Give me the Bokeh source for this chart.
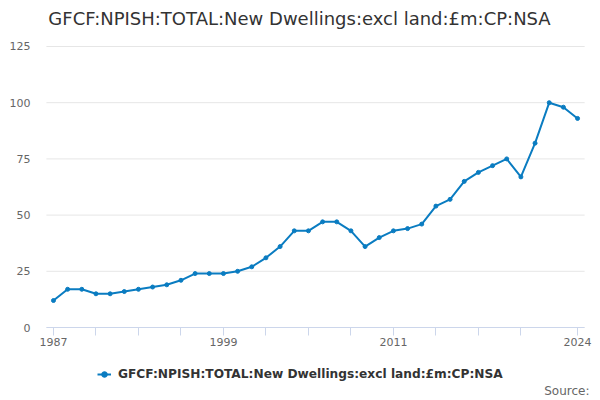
from bokeh.plotting import figure
from bokeh.models import (ColumnDataSource, FixedTicker, Legend, LegendItem, Label)
from bokeh.embed import file_html
from bokeh.resources import INLINE

title_text = "GFCF:NPISH:TOTAL:New Dwellings:excl land:£m:CP:NSA"
series_name = "GFCF:NPISH:TOTAL:New Dwellings:excl land:£m:CP:NSA"
source_text = "Source:"

years = list(range(1987, 2025))
values = [12, 17, 17, 15, 15, 16, 17, 18, 19, 21,
          24, 24, 24, 25, 27, 31, 36, 43, 43, 47,
          47, 43, 36, 40, 43, 44, 46, 54, 57, 65,
          69, 72, 75, 67, 82, 100, 98, 93]

x_label_ticks = [1987, 1999, 2011, 2024]
x_minor_ticks = [1990, 1993, 1996, 2002, 2005, 2008, 2014, 2017, 2020]
y_ticks = [0, 25, 50, 75, 100, 125]

FONT = "DejaVu Sans"
LINE_COLOR = "#0a7cc1"
GRID_COLOR = "#e6e6e6"
AXIS_COLOR = "#ccd6eb"

src = ColumnDataSource(data=dict(year=years, value=values))

# category-like plot band: half a year either side of the data
x_lo = years[0] - 0.5
x_hi = years[-1] + 0.5

# The frame fills the whole canvas; axes are pinned with fixed_location so all
# texts (title, axis labels, legend, source) sit inside the frame, unclipped.
p = figure(width=600, height=400, output_backend="svg", toolbar_location=None,
           title=None,
           x_range=(1983.26, 2025.62), y_range=(-32.47, 145.46),
           min_border_left=0, min_border_right=0, min_border_top=0,
           min_border_bottom=0)
p.outline_line_color = None
p.background_fill_color = "white"
p.border_fill_color = "white"

# horizontal grid lines limited to the plot band
grid_src = ColumnDataSource(data=dict(y=y_ticks, x0=[x_lo] * len(y_ticks),
                                      x1=[x_hi] * len(y_ticks)))
p.segment(x0="x0", y0="y", x1="x1", y1="y", source=grid_src,
          line_color=GRID_COLOR, line_width=1)

line = p.line("year", "value", source=src, line_color=LINE_COLOR, line_width=2)
pts = p.scatter("year", "value", source=src, size=4, fill_color=LINE_COLOR,
                line_color=LINE_COLOR)

p.xgrid.visible = False
p.ygrid.visible = False

# x axis pinned at y = 0
xa = p.xaxis[0]
xa.fixed_location = 0
xa.bounds = (x_lo, x_hi)
xa.ticker = FixedTicker(ticks=x_label_ticks, minor_ticks=x_minor_ticks)
xa.axis_line_color = AXIS_COLOR
xa.major_tick_line_color = AXIS_COLOR
xa.minor_tick_line_color = AXIS_COLOR
xa.major_tick_in = 0
xa.major_tick_out = 8
xa.minor_tick_in = 0
xa.minor_tick_out = 8
xa.major_label_text_font = FONT
xa.major_label_text_font_size = "11px"
xa.major_label_text_color = "#666666"
xa.major_label_standoff = 2

# y axis pinned at the left edge of the plot band
ya = p.yaxis[0]
ya.fixed_location = x_lo
ya.bounds = (0, 125)
ya.ticker = FixedTicker(ticks=y_ticks, minor_ticks=[])
ya.axis_line_color = None
ya.major_tick_line_color = None
ya.minor_tick_line_color = None
ya.major_tick_out = 0
ya.major_tick_in = 0
ya.major_label_text_font = FONT
ya.major_label_text_font_size = "11px"
ya.major_label_text_color = "#666666"
ya.major_label_standoff = 16

# title (screen units, measured from the frame's bottom-left)
p.add_layout(Label(x=299, y=382, x_units="screen", y_units="screen",
                   text=title_text, text_font=FONT, text_font_size="18px",
                   text_color="#333333", text_align="center",
                   text_baseline="middle"))

legend = Legend(items=[LegendItem(label=series_name, renderers=[line, pts])],
                location=(97, 18), orientation="horizontal",
                padding=0, margin=0, border_line_color=None,
                background_fill_alpha=0, glyph_width=14, glyph_height=16,
                label_height=16, label_standoff=7,
                label_text_font=FONT, label_text_font_size="12.2px",
                label_text_font_style="bold", label_text_color="#333333")
p.add_layout(legend, "center")

p.add_layout(Label(x=589, y=10, x_units="screen", y_units="screen",
                   text=source_text, text_font=FONT, text_font_size="12px",
                   text_color="#666666", text_align="right",
                   text_baseline="middle"))

open("out.html", "w").write(file_html(p, INLINE))
